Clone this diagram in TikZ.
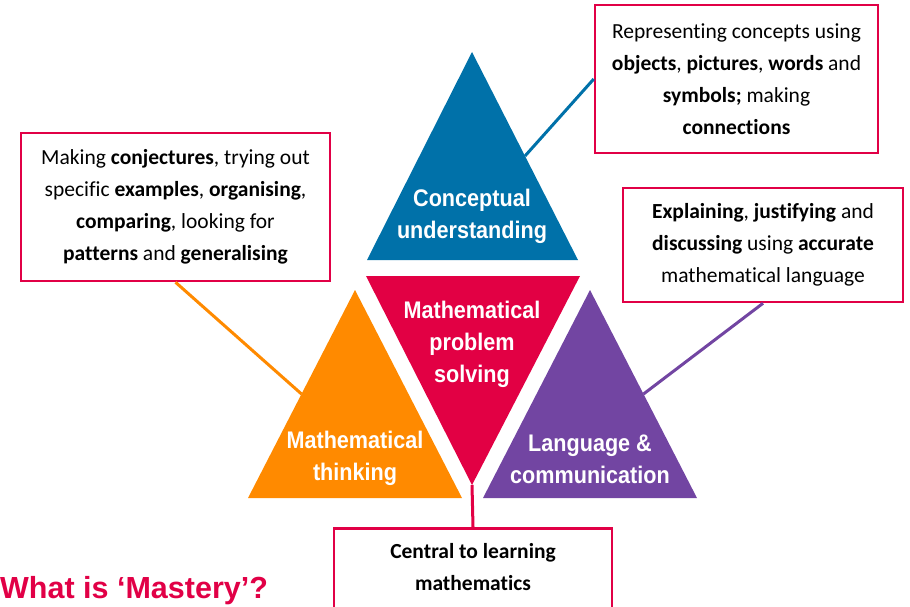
\documentclass[tikz,border=0pt]{standalone}
\usepackage{fontspec}
\usetikzlibrary{calc}
\setmainfont{Carlito}[Ligatures=CommonOff]
\newfontfamily\headfont[FakeStretch=0.9]{Liberation Sans}
\newfontfamily\titlefont{Liberation Sans}
\definecolor{cublue}{RGB}{0,113,169}
\definecolor{psred}{RGB}{226,0,68}
\definecolor{mtorange}{RGB}{255,138,0}
\definecolor{lcpurple}{RGB}{114,69,162}
\definecolor{boxred}{RGB}{225,0,70}
\tikzset{
  tri/.style={text=white, align=center, inner sep=0pt,
    font=\headfont\bfseries\fontsize{24}{32}\selectfont},
  box/.style={draw=boxred, line width=2.5pt, fill=white, align=center,
    font=\fontsize{21.5}{32}\selectfont},
  link/.style={line width=3pt}
}
\begin{document}
\begin{tikzpicture}[x=1pt,y=-1pt]
\useasboundingbox (0,0) rectangle (910,607);
\coordinate (cu1) at (472,52);
\coordinate (cu2) at (367,260);
\coordinate (cu3) at (578,260);
\coordinate (ps1) at (366,276);
\coordinate (ps2) at (580,276);
\coordinate (ps3) at (472,485);
\coordinate (mt1) at (355,290);
\coordinate (mt2) at (248,498);
\coordinate (mt3) at (462,498);
\coordinate (lc1) at (590,290);
\coordinate (lc2) at (483,498);
\coordinate (lc3) at (697,498);
\fill [cublue] (cu1) -- (cu2) -- (cu3) -- cycle;
\fill [psred] (ps1) -- (ps2) -- (ps3) -- cycle;
\fill [mtorange] (mt1) -- (mt2) -- (mt3) -- cycle;
\fill [lcpurple] (lc1) -- (lc2) -- (lc3) -- cycle;
\node (cu) [tri] at (472,216) {Conceptual\\understanding};
\node (ps) [tri] at (472,344) {Mathematical\\problem\\solving};
\node (mt) [tri] at (355,458) {Mathematical\\thinking};
\node (lc) [tri] at (590,459) {Language \&\\communication};

\node (think) [box, minimum width=309pt, minimum height=148pt] at (175.5,207) {
  Making \textbf{conjectures}, trying out\\
  specific \textbf{examples}, \textbf{organising},\\
  \textbf{comparing}, looking for\\
  \textbf{patterns} and \textbf{generalising}};
\node (rep) [box, minimum width=283pt, minimum height=148pt] at (736.5,79) {
  Representing concepts using\\
  \textbf{objects}, \textbf{pictures}, \textbf{words} and\\
  \textbf{symbols;} making\\
  \textbf{connections}};
\node (talk) [box, minimum width=280pt, minimum height=114pt] at (763,245) {
  \textbf{Explaining}, \textbf{justifying} and\\
  \textbf{discussing} using \textbf{accurate}\\
  mathematical language};
\node (core) [box, minimum width=278pt, anchor=north, inner ysep=15pt, text depth=40pt] at (473,527) {
  \textbf{Central to learning}\\
  \textbf{mathematics}};

\draw [link, cublue] ($(cu1)!0.5!(cu3)$) -- (rep.west);
\draw [link, mtorange] ($(mt1)!0.5!(mt2)$) -- (think.south);
\draw [link, lcpurple] ($(lc1)!0.5!(lc3)$) -- (talk.south);
\draw [link, psred] (ps3) -- (core.north);

\node (title) [anchor=west, inner sep=0pt, text=boxred,
  font=\titlefont\bfseries\fontsize{30.5}{36}\selectfont] at (0,591) {What is ‘Mastery’?};
\end{tikzpicture}
\end{document}
